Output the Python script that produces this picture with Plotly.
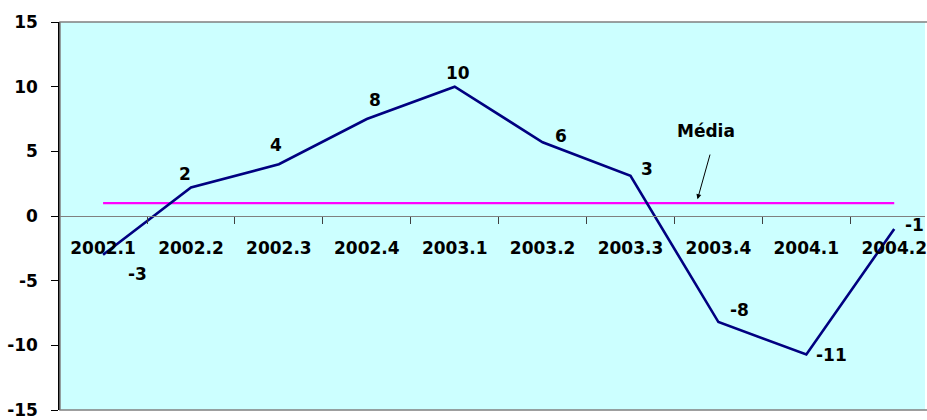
import plotly.graph_objects as go

# Quarterly series
quarters = ["2002.1", "2002.2", "2002.3", "2002.4", "2003.1",
            "2003.2", "2003.3", "2003.4", "2004.1", "2004.2"]
values = [-3.0, 2.2, 4.0, 7.5, 10.0, 5.7, 3.1, -8.2, -10.7, -1.0]
media = 1.0
y_ticks = [-15, -10, -5, 0, 5, 10, 15]

# per-point label offsets (pixels) relative to each point
label_dx = [34, -6, -3, 8, 3, 18, 16, 21, 25, 20]
label_dy = [-19, 14, 19, 19, 14, 6, 7, 12, -1, 4]

idx = list(range(len(quarters)))
FONT = "DejaVu Sans"
TXT = dict(family=FONT, size=17, color="black", weight="bold")

fig = go.Figure()

fig.add_trace(go.Scatter(
    x=idx, y=[media] * len(idx), mode="lines",
    line=dict(color="#FF00FF", width=2.2), hoverinfo="skip",
))
fig.add_trace(go.Scatter(
    x=idx, y=values, mode="lines",
    line=dict(color="#000080", width=2.6),
))

annotations = []
for i, v, dx, dy in zip(idx, values, label_dx, label_dy):
    annotations.append(dict(
        x=i, y=v, xref="x", yref="y", text=f"{v:.0f}", showarrow=False,
        xshift=dx, yshift=dy, font=TXT,
    ))

# "Média" label with its pointer arrow
annotations.append(dict(
    x=6.75, y=media, xref="x", yref="y", text="Média", showarrow=False,
    xshift=10, yshift=72, font=TXT,
))
annotations.append(dict(
    x=6.75, y=media, xref="x", yref="y", text="", showarrow=True,
    ax=14, ay=-50, axref="pixel", ayref="pixel",
    arrowhead=2, arrowsize=1, arrowwidth=1, arrowcolor="black", standoff=4,
))

fig.update_layout(
    width=927, height=420,
    margin=dict(l=60, r=0, t=22, b=7),
    paper_bgcolor="white", plot_bgcolor="#CCFFFF",
    showlegend=False,
    annotations=annotations,
    shapes=[dict(type="rect", xref="paper", yref="paper", x0=0, x1=1.01, y0=0, y1=1,
                 line=dict(color="#808080", width=1.5), layer="above")],
    xaxis=dict(
        range=[-0.49, 9.35], tickmode="array", tickvals=idx, ticktext=quarters,
        ticks="", showgrid=False, zeroline=False,
        showline=True, linecolor="#808080", linewidth=1,
        anchor="free", position=0.5,
        tickfont=TXT, ticklabelstandoff=17, ticklabeloverflow="allow",
        minor=dict(tickmode="array", tickvals=[i + 0.5 for i in idx[:-1]],
                   ticks="outside", ticklen=7, tickcolor="#404040", tickwidth=1,
                   showgrid=False),
    ),
    yaxis=dict(
        range=[-15, 15], tickmode="array", tickvals=y_ticks,
        ticktext=[str(t) for t in y_ticks],
        ticks="outside", ticklen=7, tickcolor="black", tickwidth=1,
        showgrid=False, zeroline=False,
        showline=True, linecolor="black", linewidth=1.5,
        tickfont=TXT, ticklabelstandoff=10, ticklabeloverflow="allow",
    ),
)

fig.write_html("out.html")
